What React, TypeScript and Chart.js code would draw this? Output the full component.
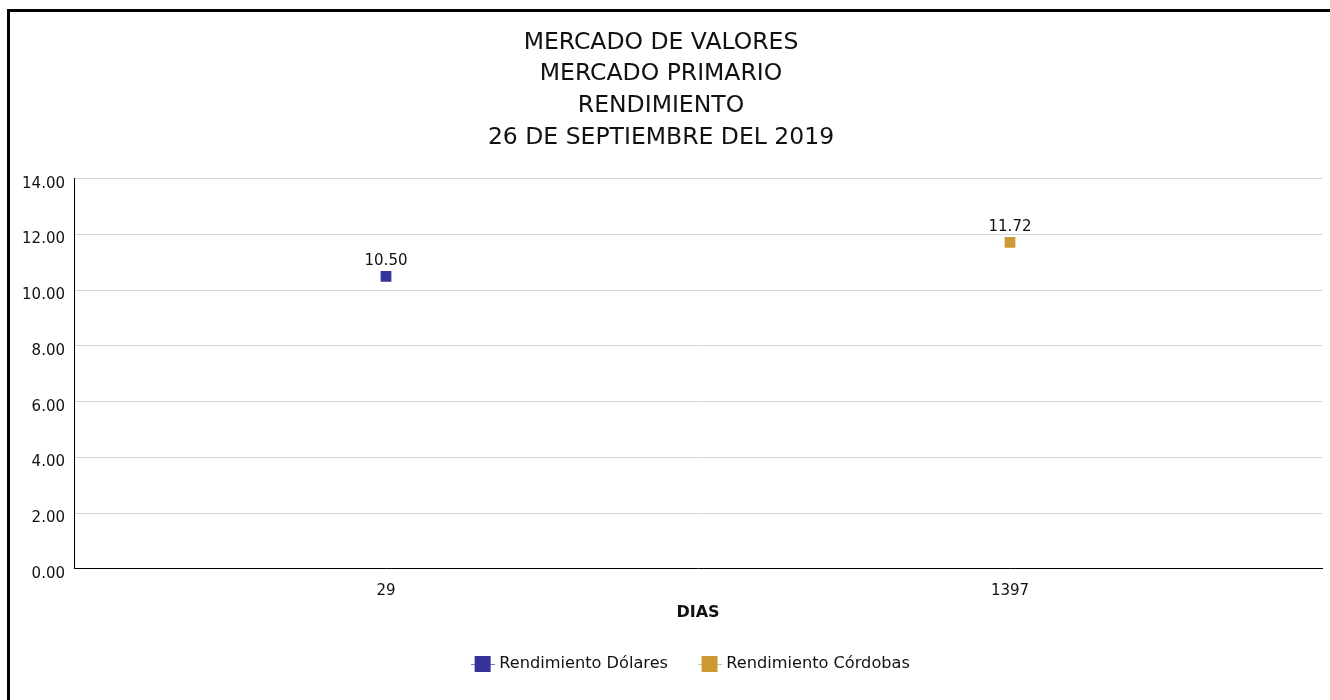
import React, { useEffect, useRef } from "react";
import { Chart, registerables } from "chart.js";

Chart.register(...registerables);

const titleLines = [
  "MERCADO DE VALORES",
  "MERCADO PRIMARIO",
  "RENDIMIENTO",
  "26 DE SEPTIEMBRE DEL 2019",
];
const categories = ["29", "1397"];
const dolaresValues = [10.5, null];
const cordobasValues = [null, 11.72];
const seriesNames = ["Rendimiento Dólares", "Rendimiento Córdobas"];
const seriesColors = ["#333399", "#CC9933"];
const xAxisTitle = "DIAS";
const yMin = 0;
const yMax = 14;
const yStep = 2;

const FONT = "'DejaVu Sans', sans-serif";

function makeLegendMarker(color: string): HTMLCanvasElement {
  const c = document.createElement("canvas");
  c.width = 24;
  c.height = 16;
  const g = c.getContext("2d")!;
  g.strokeStyle = color;
  g.globalAlpha = 0.7;
  g.lineWidth = 1;
  g.beginPath();
  g.moveTo(0, 8.5);
  g.lineTo(24, 8.5);
  g.stroke();
  g.globalAlpha = 1;
  g.fillStyle = color;
  g.fillRect(4, 0, 16, 16);
  return c;
}

const dataLabelPlugin = {
  id: "dataLabels",
  afterDatasetsDraw(chart: any) {
    const ctx = chart.ctx;
    ctx.save();
    ctx.font = `15px ${FONT}`;
    ctx.fillStyle = "#111";
    ctx.textAlign = "center";
    ctx.textBaseline = "middle";
    chart.data.datasets.forEach((ds: any, di: number) => {
      const meta = chart.getDatasetMeta(di);
      meta.data.forEach((el: any, i: number) => {
        const v = ds.data[i];
        if (v === null || v === undefined) return;
        ctx.fillText(Number(v).toFixed(2), el.x, el.y - 15);
      });
    });
    ctx.restore();
  },
};

const legendShiftPlugin = {
  id: "legendShift",
  afterLayout(chart: any) {
    if (chart.legend) {
      chart.legend.left += 31;
      chart.legend.right += 31;
    }
  },
};

export default function App() {
  const canvasRef = useRef<HTMLCanvasElement | null>(null);

  useEffect(() => {
    if (!canvasRef.current) return;
    Chart.defaults.font.family = FONT;
    Chart.defaults.color = "#111";
    const markers = seriesColors.map(makeLegendMarker);
    const chart = new Chart(canvasRef.current, {
      type: "line",
      data: {
        labels: categories,
        datasets: [
          {
            label: seriesNames[0],
            data: dolaresValues,
            borderColor: seriesColors[0],
            backgroundColor: seriesColors[0],
            showLine: false,
            pointStyle: "rect",
            pointRadius: 7.6,
            pointBorderWidth: 0,
          },
          {
            label: seriesNames[1],
            data: cordobasValues,
            borderColor: seriesColors[1],
            backgroundColor: seriesColors[1],
            showLine: false,
            pointStyle: "rect",
            pointRadius: 7.6,
            pointBorderWidth: 0,
          },
        ],
      },
      options: {
        animation: false,
        responsive: true,
        maintainAspectRatio: false,
        layout: { padding: { left: 0, right: 8, top: 0, bottom: 18 } },
        plugins: {
          tooltip: { enabled: false },
          title: {
            display: true,
            text: titleLines,
            color: "#111",
            font: { size: 23.5, weight: "normal", lineHeight: 1.355, family: FONT },
            padding: { top: 26.5, bottom: 25 },
          },
          legend: {
            position: "bottom",
            labels: {
              usePointStyle: true,
              pointStyleWidth: 17,
              padding: 33,
              color: "#111",
              font: { size: 16.2, family: FONT },
              generateLabels: (ch: any) =>
                ch.data.datasets.map((ds: any, i: number) => ({
                  text: ds.label,
                  pointStyle: markers[i],
                  fillStyle: seriesColors[i],
                  strokeStyle: seriesColors[i],
                  lineWidth: 0,
                  hidden: false,
                  datasetIndex: i,
                  fontColor: "#111",
                })),
            },
          },
        },
        scales: {
          x: {
            offset: true,
            grid: { display: false, drawTicks: false },
            border: { display: true, color: "#000", width: 1 },
            ticks: { padding: 13, font: { size: 15, family: FONT }, color: "#111" },
            title: {
              display: true,
              text: xAxisTitle,
              color: "#111",
              font: { size: 16, weight: "bold", family: FONT },
              padding: 0,
            },
            afterFit: (s: any) => {
              s.height = 54;
            },
          },
          y: {
            min: yMin,
            max: yMax,
            grid: {
              drawTicks: false,
              color: (c: any) => (c.tick && c.tick.value === 0 ? "rgba(0,0,0,0)" : "#d4d4d4"),
            },
            border: { display: true, color: "#000", width: 1 },
            ticks: {
              stepSize: yStep,
              padding: 9,
              labelOffset: 5,
              font: { size: 15, family: FONT },
              color: "#111",
              callback: (v: any) => Number(v).toFixed(2),
            },
            afterFit: (s: any) => {
              s.width = 74;
            },
          },
        },
      },
      plugins: [dataLabelPlugin, legendShiftPlugin],
    });
    return () => chart.destroy();
  }, []);

  return (
    <div
      style={{
        position: "fixed",
        left: 0,
        top: 0,
        width: "1330px",
        height: "700px",
        overflow: "hidden",
        background: "#fff",
      }}
    >
      <div
        style={{
          position: "absolute",
          left: "7px",
          top: "9px",
          width: "1400px",
          height: "800px",
          border: "3px solid #000",
          boxSizing: "border-box",
        }}
      />
      <div style={{ position: "absolute", left: 0, top: 0, width: "1330px", height: "700px" }}>
        <canvas ref={canvasRef} />
      </div>
    </div>
  );
}
